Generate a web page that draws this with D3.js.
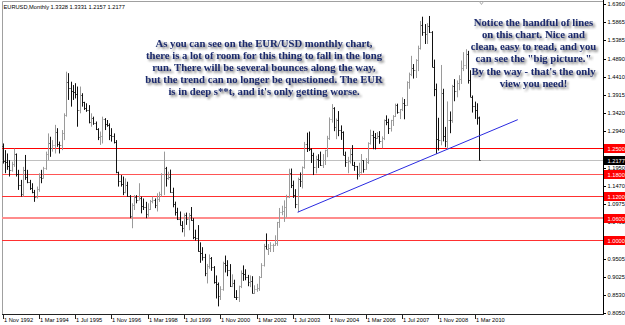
<!DOCTYPE html>
<html>
<head>
<meta charset="utf-8">
<script src="https://cdnjs.cloudflare.com/ajax/libs/d3/7.8.5/d3.min.js"></script>
<style>
  body { margin: 0; background: #fff; }
  svg { display: block; }
  .small { font-family: "Liberation Sans", Arial, sans-serif; font-size: 5.7px; }
  .note { font-family: "Liberation Serif", "Times New Roman", serif; font-weight: bold; font-size: 10.7px; fill: #1b2b6d; }
</style>
</head>
<body>
<div id="chart"></div>
<script>
// EURUSD monthly bars, Nov 1992 .. May 2010
const symbolTitle = "EURUSD,Monthly";
const lastQuote = "1.3328 1.3331 1.2157 1.2177";
const firstMonth = "1992-11";

const open = [
  1.255, 1.215,
  1.212, 1.200, 1.190, 1.205, 1.232, 1.180, 1.150, 1.125, 1.190, 1.172, 1.158, 1.140,
  1.130, 1.118, 1.138, 1.172, 1.168, 1.195, 1.232, 1.262, 1.250, 1.258, 1.292, 1.260,
  1.258, 1.290, 1.338, 1.425, 1.410, 1.402, 1.398, 1.395, 1.352, 1.390, 1.372, 1.356,
  1.352, 1.318, 1.330, 1.316, 1.300, 1.278, 1.282, 1.326, 1.312, 1.310, 1.285, 1.280,
  1.265, 1.185, 1.160, 1.152, 1.130, 1.150, 1.120, 1.065, 1.095, 1.118, 1.110, 1.115,
  1.092, 1.090, 1.070, 1.085, 1.105, 1.110, 1.095, 1.112, 1.125, 1.178, 1.195, 1.168,
  1.170, 1.130, 1.099, 1.0765, 1.057, 1.043, 1.034, 1.069, 1.0575, 1.068, 1.056, 1.0095,
  1.007, 0.9715, 0.9665, 0.956, 0.9115, 0.9325, 0.953, 0.928, 0.889, 0.8825, 0.8495, 0.8695,
  0.9405, 0.934, 0.921, 0.8775, 0.887, 0.8485, 0.848, 0.8775, 0.912, 0.911, 0.9005, 0.8895,
  0.890, 0.8595, 0.869, 0.872, 0.902, 0.933, 0.9865, 0.978, 0.9805, 0.987, 0.9885, 0.992,
  1.049, 1.076, 1.079, 1.091, 1.117, 1.181, 1.150, 1.123, 1.098, 1.165, 1.159, 1.198,
  1.2595, 1.248, 1.247, 1.230, 1.1975, 1.220, 1.217, 1.203, 1.217, 1.243, 1.276, 1.327,
  1.3555, 1.3045, 1.325, 1.296, 1.2925, 1.230, 1.210, 1.2125, 1.2335, 1.2025, 1.1995, 1.179,
  1.1845, 1.2155, 1.192, 1.2115, 1.262, 1.283, 1.279, 1.2765, 1.281, 1.268, 1.276, 1.324,
  1.320, 1.302, 1.323, 1.3355, 1.3655, 1.345, 1.353, 1.3685, 1.364, 1.4265, 1.4475, 1.463,
  1.459, 1.486, 1.5185, 1.5785, 1.5605, 1.5545, 1.5765, 1.561, 1.4675, 1.4085, 1.272, 1.2695,
  1.397, 1.280, 1.267, 1.325, 1.323, 1.416, 1.403, 1.424, 1.433, 1.464, 1.472, 1.501,
  1.432, 1.3865, 1.3625, 1.351, 1.3328
];
const high = [
  1.261, 1.243,
  1.234, 1.216, 1.212, 1.247, 1.234, 1.190, 1.163, 1.198, 1.230, 1.190, 1.163, 1.154,
  1.136, 1.145, 1.181, 1.190, 1.198, 1.239, 1.288, 1.279, 1.270, 1.311, 1.302, 1.266,
  1.297, 1.342, 1.454, 1.450, 1.427, 1.418, 1.423, 1.414, 1.414, 1.396, 1.373, 1.369,
  1.364, 1.342, 1.333, 1.320, 1.302, 1.293, 1.333, 1.329, 1.324, 1.315, 1.302, 1.288,
  1.270, 1.185, 1.176, 1.172, 1.167, 1.158, 1.122, 1.100, 1.122, 1.122, 1.154, 1.118,
  1.113, 1.104, 1.100, 1.109, 1.118, 1.113, 1.127, 1.131, 1.181, 1.239, 1.198, 1.185,
  1.1906, 1.142, 1.1045, 1.088, 1.078, 1.052, 1.073, 1.075, 1.074, 1.090, 1.060, 1.029,
  1.0414, 0.995, 0.982, 0.964, 0.937, 0.9625, 0.9555, 0.931, 0.906, 0.887, 0.877, 0.943,
  0.9595, 0.947, 0.9365, 0.909, 0.8945, 0.8665, 0.8785, 0.9195, 0.933, 0.9225, 0.9075, 0.906,
  0.904, 0.8795, 0.8835, 0.9045, 0.939, 0.991, 1.019, 0.9905, 0.9955, 0.9915, 1.014, 1.050,
  1.0875, 1.0935, 1.108, 1.123, 1.193, 1.1935, 1.161, 1.138, 1.169, 1.183, 1.199, 1.265,
  1.290, 1.293, 1.248, 1.236, 1.228, 1.232, 1.239, 1.2325, 1.244, 1.2815, 1.331, 1.3667,
  1.3585, 1.328, 1.348, 1.3095, 1.2935, 1.239, 1.225, 1.2475, 1.2565, 1.2115, 1.2005, 1.209,
  1.2325, 1.2155, 1.2215, 1.264, 1.298, 1.295, 1.289, 1.2915, 1.294, 1.280, 1.3255, 1.3365,
  1.3275, 1.3245, 1.337, 1.368, 1.368, 1.3535, 1.385, 1.3805, 1.428, 1.4515, 1.4966, 1.4745,
  1.4875, 1.524, 1.5905, 1.6018, 1.582, 1.5845, 1.6038, 1.563, 1.4865, 1.422, 1.330, 1.472,
  1.408, 1.3055, 1.374, 1.347, 1.4185, 1.434, 1.4305, 1.4445, 1.484, 1.5065, 1.5144, 1.510,
  1.458, 1.390, 1.3735, 1.369, 1.3331
];
const low = [
  1.207, 1.181,
  1.190, 1.172, 1.185, 1.198, 1.172, 1.136, 1.118, 1.118, 1.163, 1.154, 1.136, 1.127,
  1.104, 1.113, 1.131, 1.154, 1.167, 1.190, 1.216, 1.225, 1.239, 1.234, 1.252, 1.234,
  1.243, 1.270, 1.333, 1.378, 1.360, 1.378, 1.382, 1.306, 1.342, 1.360, 1.351, 1.346,
  1.315, 1.306, 1.311, 1.297, 1.270, 1.257, 1.261, 1.297, 1.306, 1.270, 1.266, 1.261,
  1.181, 1.145, 1.145, 1.122, 1.127, 1.118, 1.060, 1.033, 1.082, 1.100, 1.109, 1.073,
  1.082, 1.060, 1.064, 1.082, 1.100, 1.087, 1.078, 1.104, 1.118, 1.122, 1.145, 1.163,
  1.1285, 1.0893, 1.067, 1.055, 1.0405, 1.022, 1.0103, 1.042, 1.0275, 1.053, 1.0035, 1.000,
  0.9699, 0.940, 0.946, 0.904, 0.8845, 0.924, 0.9185, 0.884, 0.844, 0.8228, 0.840, 0.865,
  0.914, 0.904, 0.875, 0.8745, 0.8455, 0.840, 0.8345, 0.872, 0.8915, 0.893, 0.877, 0.8745,
  0.8575, 0.8565, 0.862, 0.8645, 0.899, 0.930, 0.977, 0.961, 0.969, 0.969, 0.986, 0.9855,
  1.034, 1.068, 1.050, 1.062, 1.114, 1.141, 1.1145, 1.087, 1.076, 1.144, 1.140, 1.193,
  1.238, 1.2405, 1.2085, 1.176, 1.1805, 1.195, 1.2005, 1.195, 1.203, 1.224, 1.2705, 1.317,
  1.294, 1.2725, 1.2805, 1.2705, 1.2295, 1.198, 1.181, 1.207, 1.2015, 1.1875, 1.164, 1.171,
  1.180, 1.1825, 1.1905, 1.206, 1.258, 1.2455, 1.245, 1.2735, 1.260, 1.248, 1.270, 1.310,
  1.2865, 1.293, 1.308, 1.332, 1.341, 1.3265, 1.348, 1.326, 1.362, 1.408, 1.442, 1.4355,
  1.437, 1.4555, 1.5135, 1.5505, 1.5285, 1.5285, 1.558, 1.466, 1.388, 1.233, 1.242, 1.256,
  1.2665, 1.251, 1.2457, 1.2885, 1.3165, 1.3745, 1.385, 1.404, 1.421, 1.4555, 1.461, 1.422,
  1.386, 1.344, 1.327, 1.3115, 1.2157
];
const close = [
  1.215, 1.212,
  1.200, 1.190, 1.205, 1.232, 1.180, 1.150, 1.125, 1.190, 1.172, 1.158, 1.140, 1.130,
  1.118, 1.138, 1.172, 1.168, 1.195, 1.232, 1.262, 1.250, 1.258, 1.292, 1.260, 1.258,
  1.290, 1.338, 1.425, 1.410, 1.402, 1.398, 1.395, 1.352, 1.390, 1.372, 1.356, 1.352,
  1.318, 1.330, 1.316, 1.300, 1.278, 1.282, 1.326, 1.312, 1.310, 1.285, 1.280, 1.265,
  1.185, 1.160, 1.152, 1.130, 1.150, 1.120, 1.065, 1.095, 1.118, 1.110, 1.115, 1.092,
  1.090, 1.070, 1.085, 1.105, 1.110, 1.095, 1.112, 1.125, 1.178, 1.195, 1.168, 1.170,
  1.130, 1.099, 1.0765, 1.057, 1.043, 1.034, 1.069, 1.0575, 1.068, 1.056, 1.0095, 1.007,
  0.9715, 0.9665, 0.956, 0.9115, 0.9325, 0.953, 0.928, 0.889, 0.8825, 0.8495, 0.8695, 0.9405,
  0.934, 0.921, 0.8775, 0.887, 0.8485, 0.848, 0.8775, 0.912, 0.911, 0.9005, 0.8895, 0.890,
  0.8595, 0.869, 0.872, 0.902, 0.933, 0.9865, 0.978, 0.9805, 0.987, 0.9885, 0.992, 1.049,
  1.076, 1.079, 1.091, 1.117, 1.181, 1.150, 1.123, 1.098, 1.165, 1.159, 1.198, 1.2595,
  1.248, 1.247, 1.230, 1.1975, 1.220, 1.217, 1.203, 1.217, 1.243, 1.276, 1.327, 1.3555,
  1.3045, 1.325, 1.296, 1.2925, 1.230, 1.210, 1.2125, 1.2335, 1.2025, 1.1995, 1.179, 1.1845,
  1.2155, 1.192, 1.2115, 1.262, 1.283, 1.279, 1.2765, 1.281, 1.268, 1.276, 1.324, 1.320,
  1.302, 1.323, 1.3355, 1.3655, 1.345, 1.353, 1.3685, 1.364, 1.4265, 1.4475, 1.463, 1.459,
  1.486, 1.5185, 1.5785, 1.5605, 1.5545, 1.5765, 1.561, 1.4675, 1.4085, 1.272, 1.2695, 1.397,
  1.280, 1.267, 1.325, 1.323, 1.416, 1.403, 1.424, 1.433, 1.464, 1.472, 1.501, 1.432,
  1.3865, 1.3625, 1.351, 1.330, 1.2177
];

const priceTicks = [1.6360, 1.5865, 1.5385, 1.4890, 1.4410, 1.3915, 1.3420, 1.2940,
                    1.1950, 1.1470, 1.0975, 1.0495, 0.9505, 0.9025, 0.8530, 0.8050];
const levels = [1.2500, 1.1800, 1.1200, 1.0600, 1.0000];
const bidPrice = 1.2177;
const dateLabels = ["1 Nov 1992", "1 Mar 1994", "1 Jul 1995", "1 Nov 1996", "1 Mar 1998",
                    "1 Jul 1999", "1 Nov 2000", "1 Mar 2002", "1 Jul 2003", "1 Nov 2004",
                    "1 Mar 2006", "1 Jul 2007", "1 Nov 2008", "1 Mar 2010"];
const trendLine = [["2003-09", 1.0760], ["2011-10", 1.3250]];

const noteLeft = [
  "As you can see on the EUR/USD monthly chart,",
  "there is a lot of room for this thing to fall in the long",
  "run. There will be several bounces along the way,",
  "but the trend can no longer be questioned. The EUR",
  "is in deep s**t, and it's only getting worse."
];
const noteRight = [
  "Notice the handful of lines",
  "on this chart. Nice and",
  "clean, easy to read, and you",
  "can see the \"big picture.\"",
  "By the way - that's the only",
  "view you need!"
];

const W = 625, H = 325;
const plot = {left: 2, right: 603, top: 1.5, bottom: 314};
const levelStyle = [
  {color: "#ff0000", width: 1}, {color: "#ff5555", width: 1}, {color: "#ff3030", width: 1},
  {color: "#ff8c8c", width: 2}, {color: "#ff3030", width: 1}
];

const svg = d3.select("#chart").append("svg")
  .attr("width", W)
  .attr("height", H)
  .style("background", "#fff");

const defs = svg.append("defs");
const f = defs.append("filter").attr("id", "shadow")
  .attr("x", "-5%").attr("y", "-30%").attr("width", "115%").attr("height", "170%");
f.append("feGaussianBlur").attr("in", "SourceAlpha").attr("stdDeviation", 1.1);
f.append("feOffset").attr("dx", 2).attr("dy", 2).attr("result", "blur");
f.append("feFlood").attr("flood-color", "#3a3a3a").attr("flood-opacity", 0.7);
f.append("feComposite").attr("in2", "blur").attr("operator", "in");
const fm = f.append("feMerge");
fm.append("feMergeNode");
fm.append("feMergeNode").attr("in", "SourceGraphic");

defs.append("clipPath").attr("id", "plotclip").append("rect")
  .attr("x", plot.left).attr("y", plot.top)
  .attr("width", plot.right - plot.left).attr("height", plot.bottom - plot.top);

const parseMonth = d3.timeParse("%Y-%m"),
      parseLabel = d3.timeParse("%d %b %Y");
const start = parseMonth(firstMonth);
const monthIndex = d => d3.timeMonth.count(start, d);

// 2.27px per monthly bar, 265 slots across the window
const x = d3.scaleLinear().domain([0, 264]).range([2.5, 2.5 + 264 * 2.27]);
const y = d3.scaleLinear().domain([0.8050, 1.6360]).range([313, 4]);
const py = v => Math.round(y(v)) + 0.5;   // crisp horizontal lines

const bars = open.map((o, i) => ({i: i, o: o, h: high[i], l: low[i], c: close[i]}));

// frame
svg.append("path")
  .attr("d", `M${plot.left + 0.5},${plot.bottom}V${plot.top}H${plot.right}`)
  .attr("fill", "none").attr("stroke", "#a0a0a0");

const g = svg.append("g").attr("clip-path", "url(#plotclip)");

// support levels + bid line
g.selectAll(".level").data(levels).enter().append("line")
  .attr("class", "level")
  .attr("x1", plot.left).attr("x2", plot.right)
  .attr("y1", (d, i) => levelStyle[i].width === 2 ? Math.round(y(d)) : py(d))
  .attr("y2", (d, i) => levelStyle[i].width === 2 ? Math.round(y(d)) : py(d))
  .attr("stroke", (d, i) => levelStyle[i].color)
  .attr("stroke-width", (d, i) => levelStyle[i].width);

g.append("line")
  .attr("x1", plot.left).attr("x2", plot.right)
  .attr("y1", py(bidPrice)).attr("y2", py(bidPrice))
  .attr("stroke", "#c0c0c0");

// OHLC bars
g.selectAll(".bar").data(bars).enter().append("path")
  .attr("class", "bar")
  .attr("d", d => {
    const cx = Math.round(x(d.i)) + 0.5;
    return `M${cx},${y(d.h)}V${y(d.l)}M${cx - 1},${py(d.o)}H${cx}M${cx},${py(d.c)}H${cx + 1}`;
  })
  .attr("fill", "none")
  .attr("stroke", d => d.c >= d.o ? "#9a9a9a" : "#111")
  .attr("stroke-width", 1);

// trend line
g.append("line")
  .attr("x1", x(monthIndex(parseMonth(trendLine[0][0])))).attr("y1", y(trendLine[0][1]))
  .attr("x2", x(monthIndex(parseMonth(trendLine[1][0])))).attr("y2", y(trendLine[1][1]))
  .attr("stroke", "#2a2ae0").attr("stroke-width", 1);

// chart shift marker
svg.append("path")
  .attr("d", `M${x(bars.length) - 2},1.5L${x(bars.length)},4.5L${x(bars.length) + 2},1.5`)
  .attr("fill", "none").attr("stroke", "#b0b0b0");

// price axis
svg.append("line")
  .attr("x1", plot.right + 0.5).attr("x2", plot.right + 0.5)
  .attr("y1", 0).attr("y2", plot.bottom + 0.5)
  .attr("stroke", "#000");

const pt = svg.append("g").attr("class", "small");
pt.selectAll("line").data(priceTicks).enter().append("line")
  .attr("x1", plot.right).attr("x2", plot.right + 3)
  .attr("y1", py).attr("y2", py)
  .attr("stroke", "#000");
pt.selectAll("text").data(priceTicks).enter().append("text")
  .attr("x", plot.right + 4.5).attr("y", d => y(d) + 2)
  .text(d => d.toFixed(4));

const lv = svg.append("g").attr("class", "small");
lv.selectAll("rect").data(levels).enter().append("rect")
  .attr("x", plot.right + 1).attr("y", d => Math.round(y(d)) - 4)
  .attr("width", 21).attr("height", 9)
  .attr("fill", "#ff0000");
lv.selectAll("text").data(levels).enter().append("text")
  .attr("x", plot.right + 4.5).attr("y", d => Math.round(y(d)) + 2.5)
  .attr("fill", "#fff")
  .text(d => d.toFixed(4));
lv.append("rect")
  .attr("x", plot.right + 1).attr("y", Math.round(y(bidPrice)) - 4)
  .attr("width", 21).attr("height", 9).attr("fill", "#000");
lv.append("text")
  .attr("x", plot.right + 4.5).attr("y", Math.round(y(bidPrice)) + 2.5)
  .attr("fill", "#fff").text(bidPrice.toFixed(4));

// time axis
svg.append("line")
  .attr("x1", plot.left).attr("x2", plot.right + 1)
  .attr("y1", plot.bottom + 0.5).attr("y2", plot.bottom + 0.5)
  .attr("stroke", "#222");

const tx = svg.append("g").attr("class", "small");
const labelX = s => Math.round(x(monthIndex(parseLabel(s)))) + 0.5;
tx.selectAll("line").data(dateLabels).enter().append("line")
  .attr("x1", labelX).attr("x2", labelX)
  .attr("y1", plot.bottom).attr("y2", plot.bottom + 5)
  .attr("stroke", "#222");
tx.selectAll("text").data(dateLabels).enter().append("text")
  .attr("x", d => labelX(d) + 0.5).attr("y", plot.bottom + 8)
  .text(d => d);

// header
svg.append("text").attr("class", "small")
  .attr("x", 3.5).attr("y", 8.5)
  .text(symbolTitle + "   " + lastQuote);

// annotations
function note(lines, cx, y0) {
  svg.append("text").attr("class", "note")
    .attr("text-anchor", "middle")
    .attr("filter", "url(#shadow)")
    .selectAll("tspan").data(lines).enter().append("tspan")
    .attr("x", cx).attr("y", (d, i) => y0 + i * 12.2)
    .text(d => d);
}
note(noteLeft, 264, 46.5);
note(noteRight, 533.5, 25.7);
</script>
</body>
</html>
